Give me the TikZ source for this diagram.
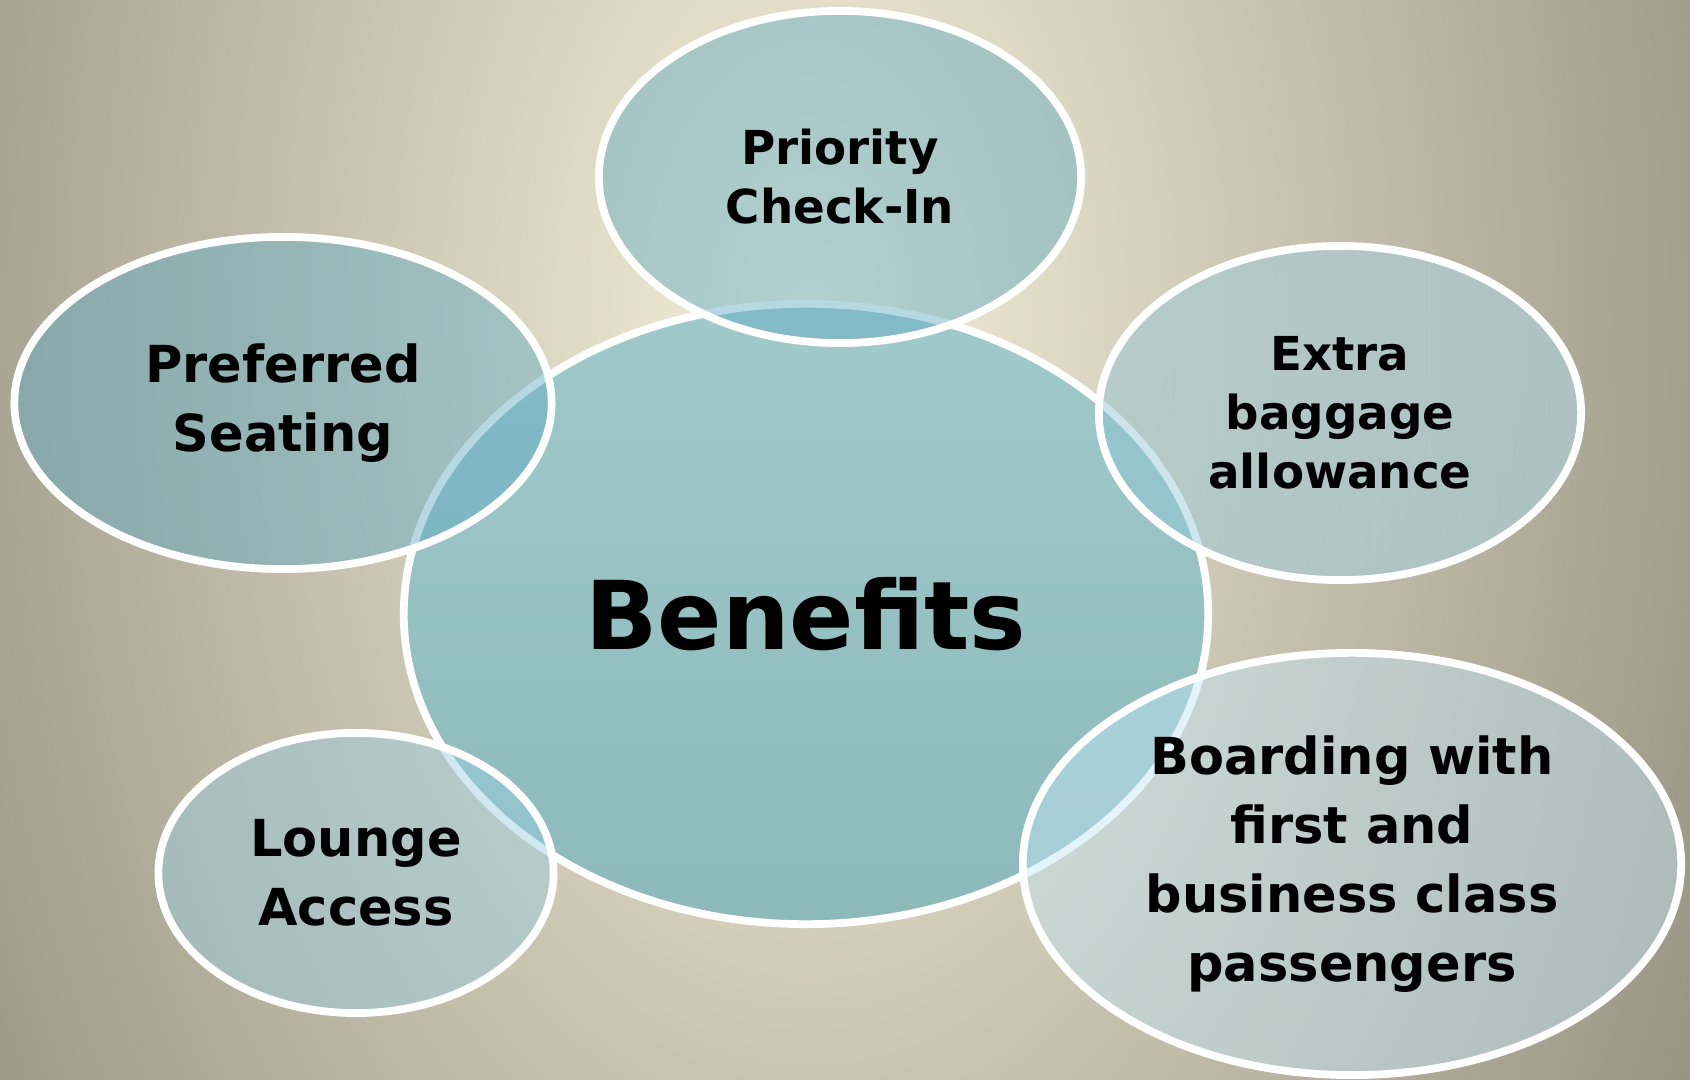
\documentclass[tikz,border=0pt]{standalone}
\usepackage{fontspec}
\setmainfont{DejaVu Sans}
\usetikzlibrary{shapes.geometric}

\definecolor{cream}{HTML}{F6F0DA}
\definecolor{sand}{HTML}{989483}
\definecolor{hubtop}{RGB}{160,201,202}
\definecolor{hubbottom}{RGB}{141,185,187}
\definecolor{tealdeep}{RGB}{95,170,195}
\definecolor{tealmid}{RGB}{140,194,212}
\definecolor{tealsoft}{RGB}{173,225,245}
\definecolor{teallounge}{RGB}{152,206,226}
\definecolor{tealpale}{RGB}{194,230,246}

\tikzset{
  hub/.style={ellipse, draw=white, line width=2.2pt, top color=hubtop, bottom color=hubbottom,
    inner sep=0pt, font=\bfseries\fontsize{27}{31}\selectfont},
  bubble/.style={ellipse, draw=white, line width=2.2pt,
    fill opacity=0.45, draw opacity=1, text opacity=1, inner sep=0pt,
    align=center, font=\bfseries\fontsize{13.3}{16.8}\selectfont},
  bigtext/.style={font=\bfseries\fontsize{14.5}{19.6}\selectfont}
}

\begin{document}
\begin{tikzpicture}[x=0.01cm, y=-0.01cm]
  \useasboundingbox (0,0) rectangle (1690,1080);
  \clip (0,0) rectangle (1690,1080);
  \fill[sand] (0,0) rectangle (1690,1080);
  \shade[inner color=cream, outer color=sand] (810,320) ellipse (1000 and 1650);

  \node[hub, minimum width=8.04cm, minimum height=6.2cm] (benefits) at (806,614) {Benefits};

  \node[bubble, fill=tealdeep, minimum width=4.82cm, minimum height=3.32cm] (checkin) at (840,177) {Priority\\Check-In};
  \node[bubble, bigtext, fill=tealdeep, minimum width=5.37cm, minimum height=3.32cm] (seating) at (283,403) {Preferred\\Seating};
  \node[bubble, left color=tealmid, right color=tealsoft, minimum width=4.82cm, minimum height=3.34cm] (baggage) at (1340,413) {Extra\\baggage\\allowance};
  \node[bubble, bigtext, fill=teallounge, minimum width=3.95cm, minimum height=2.8cm] (lounge) at (356,873) {Lounge\\Access};
  \node[bubble, bigtext, fill=tealpale, minimum width=6.58cm, minimum height=4.22cm] (boarding) at (1352,864) {Boarding with\\first and\\business class\\passengers};
\end{tikzpicture}
\end{document}
